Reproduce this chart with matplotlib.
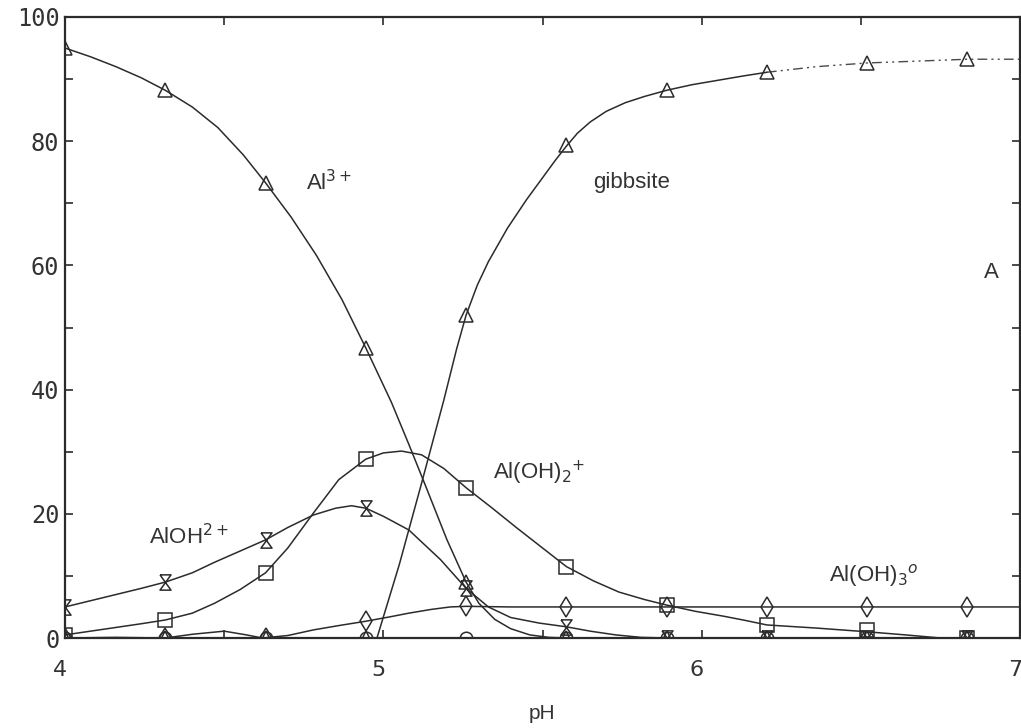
import matplotlib
matplotlib.use('Agg')
import matplotlib.pyplot as plt
from matplotlib.path import Path
from matplotlib.transforms import ScaledTranslation

# ---- data ----
marker_ph = [4.0, 4.315, 4.63, 4.945, 5.26, 5.575, 5.89, 6.205, 6.52, 6.835]
al3_marks = [95.0, 88.2, 73.3, 46.7, 9.0, 0, 0, 0, 0, 0]
aloh_marks = [5.0, 9.0, 15.8, 20.9, 8.0, 1.8, 0, 0, 0, 0]
aloh2_marks = [0.5, 2.9, 10.5, 28.8, 24.2, 11.5, 5.3, 2.1, 1.3, 0]
aloh3_marks = [0, 0, 0, 2.7, 5.1, 5.0, 5.0, 5.0, 5.0, 5.0]
gibb_marks = [0, 0, 0, 0, 52.0, 79.4, 88.2, 91.1, 92.6, 93.2]
other_marks = [0, 0, 0, 0, 0, 0, 0, 0, 0, 0]

al3_ph = [4.00, 4.08, 4.16, 4.24, 4.315, 4.40, 4.48, 4.56, 4.63, 4.71, 4.79, 4.87,
          4.945, 5.025, 5.08, 5.135, 5.20, 5.26, 5.30, 5.35, 5.40, 5.46, 5.52, 5.575, 7.0]
al3_val = [95.0, 93.6, 92.0, 90.2, 88.2, 85.5, 82.2, 77.8, 73.3, 67.8, 61.6, 54.5,
           46.7, 38.0, 31.2, 24.2, 15.8, 9.0, 5.6, 3.0, 1.5, 0.5, 0.1, 0.0, 0.0]

aloh_ph = [4.00, 4.08, 4.16, 4.24, 4.315, 4.40, 4.47, 4.55, 4.63, 4.70, 4.78, 4.85,
           4.90, 4.945, 5.00, 5.08, 5.18, 5.26, 5.33, 5.40, 5.49, 5.575, 5.65, 5.73,
           5.81, 5.89, 7.0]
aloh_val = [5.0, 6.0, 7.0, 8.0, 9.0, 10.5, 12.2, 14.0, 15.8, 17.8, 19.8, 20.9,
            21.3, 20.9, 19.6, 17.4, 12.6, 8.0, 5.0, 3.3, 2.4, 1.8, 1.1, 0.5,
            0.1, 0.0, 0.0]

aloh2_ph = [4.00, 4.08, 4.16, 4.24, 4.315, 4.40, 4.47, 4.55, 4.63, 4.70, 4.78, 4.86,
            4.945, 5.00, 5.057, 5.12, 5.19, 5.26, 5.34, 5.42, 5.50, 5.575, 5.66,
            5.74, 5.82, 5.89, 5.98, 6.07, 6.14, 6.205, 6.36, 6.52, 6.64, 6.75, 7.0]
aloh2_val = [0.5, 1.1, 1.7, 2.3, 2.9, 4.0, 5.6, 7.8, 10.5, 14.5, 20.1, 25.5,
             28.8, 29.8, 30.1, 29.5, 27.3, 24.2, 21.0, 17.7, 14.5, 11.5, 9.2,
             7.4, 6.2, 5.3, 4.3, 3.5, 2.8, 2.1, 1.6, 1.0, 0.5, 0.0, 0.0]

aloh3_ph = [4.00, 4.16, 4.315, 4.40, 4.50, 4.57, 4.62, 4.70, 4.78, 4.86, 4.945,
            5.02, 5.08, 5.15, 5.21, 5.26, 5.40, 7.0]
aloh3_val = [0.0, 0.1, 0.0, 0.6, 1.1, 0.5, 0.0, 0.4, 1.3, 2.0, 2.7,
             3.4, 4.0, 4.6, 5.0, 5.1, 5.0, 5.0]

gibb_ph = [4.98, 5.05, 5.12, 5.19, 5.23, 5.26, 5.295, 5.33, 5.39, 5.45, 5.50,
           5.54, 5.575, 5.61, 5.65, 5.70, 5.76, 5.82, 5.89, 5.97, 6.05, 6.13, 6.205]
gibb_val = [0.0, 11.8, 24.9, 38.3, 46.5, 52.0, 56.8, 60.6, 66.0, 70.6, 74.1,
            76.9, 79.2, 81.3, 83.1, 84.8, 86.2, 87.2, 88.2, 89.1, 89.8, 90.5, 91.1]
gibb_ext_ph = [6.205, 6.36, 6.52, 6.68, 6.835, 7.0]
gibb_ext_val = [91.1, 92.0, 92.6, 92.9, 93.2, 93.2]

x_ticks = [4, 5, 6, 7]
y_ticks = [0, 20, 40, 60, 80, 100]

# ---- figure ----
plt.rcParams['font.family'] = ['Liberation Sans', 'DejaVu Sans']
fig = plt.figure(figsize=(10.21, 7.28), dpi=100)
ax = fig.add_axes([65/1021, 1 - 638/728, (1020 - 65)/1021, (638 - 17)/728])

ink = '#2b2b2b'
lw = 1.1
hourglass = Path([(-0.36, 0.5), (0.36, 0.5), (-0.36, -0.5), (0.36, -0.5), (-0.36, 0.5)],
                 [Path.MOVETO, Path.LINETO, Path.LINETO, Path.LINETO, Path.LINETO])

ax.plot(al3_ph, al3_val, color=ink, lw=lw)
ax.plot(aloh_ph, aloh_val, color=ink, lw=lw)
ax.plot(aloh2_ph, aloh2_val, color=ink, lw=lw)
ax.plot(aloh3_ph, aloh3_val, color=ink, lw=lw)
ax.plot(gibb_ph, gibb_val, color=ink, lw=lw)
ax.plot(gibb_ext_ph, gibb_ext_val, color='#4a4a4a', lw=1.0,
        dashes=(7, 3, 1.5, 3, 1.5, 3))

mk = dict(ls='none', mfc='none', mec=ink, mew=1.1)
ax.plot(marker_ph, other_marks, marker='o', ms=9, **mk)
ax.plot(marker_ph, al3_marks, marker='^', ms=9.5, **mk)
ax.plot(marker_ph, gibb_marks, marker='^', ms=9.5, **mk)
ax.plot(marker_ph, aloh_marks, marker=hourglass, ms=11, **mk)
ax.plot(marker_ph, aloh2_marks, marker='s', ms=10, **mk)
ax.plot(marker_ph, aloh3_marks, marker='d', ms=10, **mk)

ax.set_xlim(4, 7)
ax.set_ylim(0, 100)
ax.set_xticks(x_ticks)
ax.set_xticks([4.5, 5.5, 6.5], minor=True)
ax.set_yticks(y_ticks)
ax.set_yticks([10, 30, 50, 70, 90], minor=True)
ax.set_xticklabels([str(v) for v in x_ticks])
ax.set_yticklabels([str(v) for v in y_ticks])
ax.tick_params(which='both', direction='in', top=True, right=True, length=6,
               width=1.2, color=ink)
ax.tick_params(axis='y', labelsize=17, pad=4, labelcolor='#333333')
ax.tick_params(axis='x', labelsize=16, pad=16, labelcolor='#333333')
for lab in ax.get_yticklabels():
    lab.set_fontfamily(['DejaVu Sans Mono', 'DejaVu Sans'])
for lab in ax.get_xticklabels():
    lab.set_fontfamily(['DejaVu Sans', 'Liberation Sans'])
    lab.set_transform(lab.get_transform() + ScaledTranslation(-5/100, 0, fig.dpi_scale_trans))
for s in ax.spines.values():
    s.set_linewidth(1.6)
    s.set_color(ink)

ax.set_xlabel('pH', fontsize=15, color='#333333', labelpad=17)

tk = dict(fontsize=16, color='#333333', va='center', ha='left')
ax.text(4.758, 73.4, 'Al$^{3+}$', **tk)
ax.text(5.66, 73.3, 'gibbsite', **tk)
ax.text(6.887, 58.9, 'A', **tk)
ax.text(5.346, 26.6, 'Al(OH)$_{2}$$^{+}$', **tk)
ax.text(4.264, 16.3, 'AlOH$^{2+}$', **tk)
ax.text(6.40, 10.1, 'Al(OH)$_{3}$$^{o}$', **tk)

fig.savefig('out.png', dpi=100)
